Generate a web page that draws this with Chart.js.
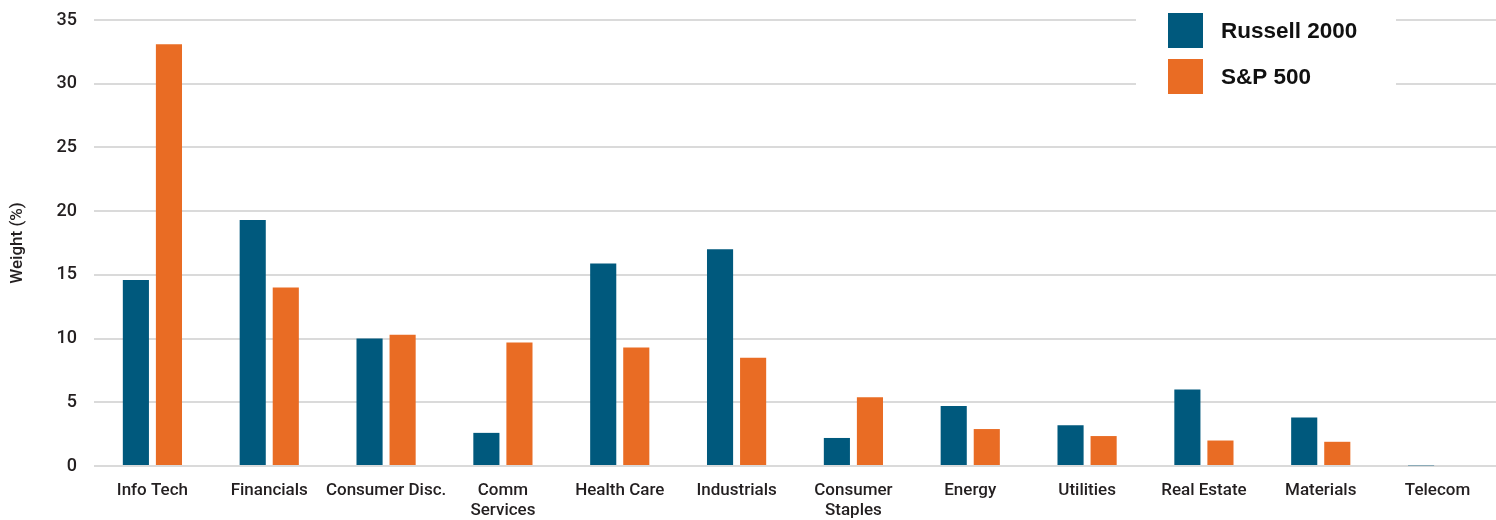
<!DOCTYPE html>
<html>
<head>
<meta charset="utf-8">
<script src="https://cdn.jsdelivr.net/npm/chart.js@4.4.1/dist/chart.umd.min.js"></script>
<style>
  html, body { margin: 0; padding: 0; background: #fff; }
  #wrap { width: 1496px; height: 520px; position: relative; }
</style>
</head>
<body>
<div id="wrap"><canvas id="myBar"></canvas></div>
<script>
const fontFamily = 'Roboto, "Liberation Sans", sans-serif';
const textColor = "#231f20";
const gridColor = "#dadada";

// Sector weights
const sectors = ["Info Tech", "Financials", "Consumer Disc.", ["Comm", "Services"], "Health Care",
    "Industrials", ["Consumer", "Staples"], "Energy", "Utilities", "Real Estate", "Materials", "Telecom"];
const russell2000 = [14.6, 19.3, 10.0, 2.6, 15.9, 17.0, 2.2, 4.7, 3.2, 6.0, 3.8, 0.05];
const sp500 = [33.1, 14.0, 10.3, 9.7, 9.3, 8.5, 5.4, 2.9, 2.35, 2.0, 1.9, 0];
const yTicks = [0, 5, 10, 15, 20, 25, 30, 35];

const boxLegend = {
    id: 'boxLegend',
    afterDraw(chart) {
        const ctx = chart.ctx;
        ctx.save();
        ctx.fillStyle = "#fff";
        ctx.fillRect(1136, 0, 260, 110);
        chart.data.datasets.forEach((ds, i) => {
            const y = 13 + i * 46;
            ctx.fillStyle = ds.backgroundColor;
            ctx.fillRect(1168, y, 35, 35);
            ctx.fillStyle = "#111";
            ctx.font = 'bold 22.5px "Liberation Sans", Arial, sans-serif';
            ctx.textBaseline = 'middle';
            ctx.textAlign = 'left';
            ctx.fillText(ds.label, 1221, y + 19);
        });
        ctx.restore();
    }
};

new Chart("myBar", {
    type: "bar",
    data: {
        labels: sectors,
        datasets: [{
            label: "Russell 2000",
            data: russell2000,
            backgroundColor: "#00597d",
            categoryPercentage: 0.566,
            barPercentage: 0.79,
        },
        {
            label: "S&P 500",
            data: sp500,
            backgroundColor: "#e96c24",
            categoryPercentage: 0.566,
            barPercentage: 0.79,
        }]
    },
    options: {
        responsive: true,
        maintainAspectRatio: false,
        animation: false,
        layout: { padding: { top: 20, right: 0, left: 0, bottom: 0 } },
        scales: {
            x: {
                grid: { display: false, drawTicks: false },
                border: { display: false },
                afterFit: (scale) => { scale.height = 54; },
                ticks: {
                    padding: 15,
                    color: textColor,
                    maxRotation: 0,
                    autoSkip: false,
                    font: { family: fontFamily, size: 17, weight: 500, lineHeight: 1.15 },
                },
            },
            y: {
                min: 0,
                max: 35,
                afterFit: (scale) => {
                    scale.width = 94;
                    scale.paddingTop = 0;
                    scale.paddingBottom = 0;
                },
                afterBuildTicks: (scale) => { scale.ticks = yTicks.map(v => ({ value: v })); },
                grid: { color: gridColor, lineWidth: 2, drawTicks: false },
                border: { display: false },
                ticks: {
                    padding: 17,
                    color: textColor,
                    font: { family: fontFamily, size: 18, weight: 500 },
                },
                title: {
                    display: true,
                    text: "Weight (%)",
                    color: textColor,
                    padding: { top: 8, bottom: 0 },
                    font: { family: fontFamily, size: 17, weight: 500 },
                },
            },
        },
        plugins: {
            legend: { display: false },
            tooltip: { enabled: false },
        },
    },
    plugins: [boxLegend]
});
</script>
</body>
</html>
